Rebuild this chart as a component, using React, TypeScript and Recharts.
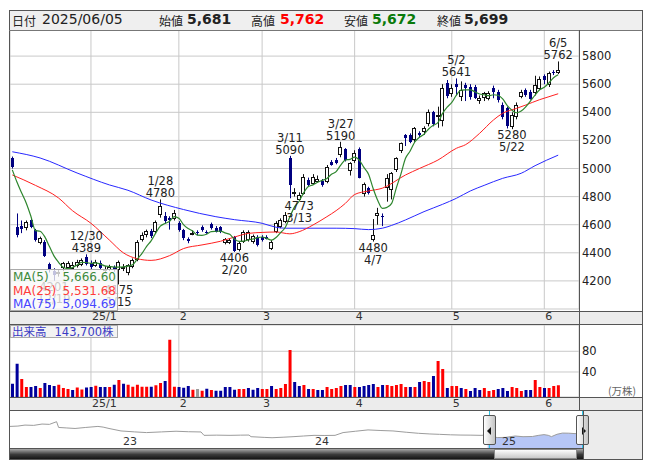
import React from 'react';
import { ComposedChart, Bar, Line, Area, XAxis, YAxis, CartesianGrid, Cell } from 'recharts';

const FONT = '"DejaVu Sans", Verdana, sans-serif';
const JP = '"Noto Sans CJK JP", "DejaVu Sans", sans-serif';

// trading days shown (12/6 .. 6/5)
const DATES = [
  '12/6', '12/9', '12/10', '12/11', '12/12', '12/13', '12/16', '12/17', '12/18', '12/19',
  '12/20', '12/23', '12/24', '12/25', '12/26', '12/27', '12/30',
  '1/6', '1/7', '1/8', '1/9', '1/10', '1/14', '1/15', '1/16', '1/17', '1/20', '1/21', '1/22',
  '1/23', '1/24', '1/27', '1/28', '1/29', '1/30', '1/31',
  '2/3', '2/4', '2/5', '2/6', '2/7', '2/10', '2/12', '2/13', '2/14', '2/17', '2/18', '2/19',
  '2/20', '2/21', '2/25', '2/26', '2/27', '2/28',
  '3/3', '3/4', '3/5', '3/6', '3/7', '3/10', '3/11', '3/12', '3/13', '3/14', '3/17', '3/18',
  '3/19', '3/21', '3/24', '3/25', '3/26', '3/27', '3/28', '3/31',
  '4/1', '4/2', '4/3', '4/4', '4/7', '4/8', '4/9', '4/10', '4/11', '4/14', '4/15', '4/16',
  '4/17', '4/18', '4/21', '4/22', '4/23', '4/24', '4/25', '4/28', '4/30',
  '5/1', '5/2', '5/7', '5/8', '5/9', '5/12', '5/13', '5/14', '5/15', '5/16', '5/19', '5/20',
  '5/21', '5/22', '5/23', '5/26', '5/27', '5/28', '5/29', '5/30',
  '6/2', '6/3', '6/4', '6/5',
];

const OPEN = [
  5075, 4586, 4590, 4575, 4634, 4563, 4468, 4479, 4320, 4270,
  4245, 4290, 4295, 4290, 4305, 4315, 4372, 4330, 4312, 4326,
  4270, 4280, 4300, 4277, 4285, 4255, 4300, 4349, 4491, 4527,
  4552, 4550, 4665, 4660, 4645, 4645, 4615, 4565, 4497, 4530,
  4550, 4582, 4550, 4603, 4575, 4582, 4468, 4470, 4511, 4415,
  4479, 4486, 4475, 4515, 4515, 4515, 4432, 4550, 4586, 4622,
  5077, 4830, 4776, 4824, 4918, 4895, 4910, 4910, 4906, 5048,
  5060, 5096, 5140, 4977, 5048, 5140, 4820, 4859, 4491, 4657,
  4660, 4859, 4847, 4989, 5119, 5238, 5240, 5203, 5255, 5255,
  5321, 5404, 5364, 5333, 5606, 5525, 5600, 5510, 5594, 5582,
  5582, 5475, 5500, 5499, 5570, 5546, 5452, 5428, 5297, 5368,
  5511, 5558, 5546, 5535, 5570, 5660, 5594, 5690, 5681,
];
const HIGH = [
  5085, 4680, 4630, 4630, 4645, 4570, 4515, 4490, 4330, 4290,
  4280, 4335, 4340, 4335, 4350, 4360, 4389, 4345, 4350, 4345,
  4305, 4315, 4310, 4345, 4320, 4320, 4360, 4490, 4545, 4565,
  4570, 4630, 4780, 4690, 4660, 4705, 4625, 4570, 4510, 4560,
  4560, 4595, 4560, 4615, 4590, 4590, 4505, 4505, 4520, 4480,
  4560, 4560, 4530, 4525, 4525, 4525, 4490, 4625, 4645, 4690,
  5090, 4860, 4830, 4960, 4935, 4960, 4950, 4925, 5025, 5060,
  5075, 5190, 5145, 5045, 5130, 5150, 4900, 4870, 4640, 4720,
  4680, 4960, 4975, 5080, 5185, 5245, 5250, 5295, 5265, 5300,
  5420, 5410, 5440, 5600, 5630, 5600, 5641, 5620, 5610, 5600,
  5595, 5520, 5545, 5550, 5590, 5560, 5470, 5440, 5400, 5470,
  5560, 5570, 5560, 5660, 5655, 5670, 5690, 5700, 5762,
];
const LOW = [
  5000, 4510, 4540, 4560, 4575, 4480, 4460, 4370, 4260, 4201,
  4230, 4270, 4285, 4280, 4295, 4305, 4310, 4285, 4300, 4280,
  4260, 4270, 4265, 4175, 4270, 4240, 4290, 4340, 4480, 4510,
  4505, 4540, 4650, 4610, 4565, 4630, 4550, 4490, 4468, 4525,
  4525, 4550, 4535, 4565, 4545, 4540, 4460, 4462, 4406, 4410,
  4470, 4480, 4465, 4445, 4480, 4495, 4420, 4540, 4575, 4610,
  4788, 4800, 4773, 4815, 4870, 4885, 4900, 4870, 4895, 5020,
  5030, 5080, 5050, 4950, 5040, 4930, 4800, 4815, 4480, 4600,
  4590, 4764, 4780, 4975, 5110, 5160, 5180, 5190, 5220, 5240,
  5300, 5300, 5290, 5300, 5500, 5510, 5520, 5480, 5480, 5490,
  5495, 5460, 5480, 5485, 5500, 5470, 5350, 5285, 5280, 5350,
  5500, 5510, 5490, 5520, 5560, 5600, 5580, 5665, 5672,
];
const CLOSE = [
  5010, 4527, 4570, 4617, 4586, 4490, 4503, 4378, 4275, 4245,
  4260, 4326, 4330, 4315, 4337, 4350, 4322, 4298, 4338, 4290,
  4285, 4300, 4280, 4334, 4300, 4310, 4350, 4480, 4527, 4552,
  4517, 4622, 4730, 4622, 4630, 4685, 4563, 4505, 4480, 4540,
  4540, 4558, 4543, 4575, 4550, 4545, 4496, 4490, 4408, 4468,
  4550, 4545, 4520, 4456, 4491, 4503, 4479, 4614, 4634, 4669,
  4883, 4835, 4812, 4943, 4883, 4943, 4928, 4880, 5013, 5030,
  5040, 5155, 5065, 5037, 5108, 4935, 4893, 4824, 4527, 4681,
  4655, 4930, 4966, 5072, 5179, 5215, 5191, 5286, 5240, 5286,
  5404, 5321, 5380, 5570, 5511, 5570, 5580, 5560, 5575, 5511,
  5505, 5499, 5535, 5540, 5545, 5487, 5368, 5297, 5380, 5452,
  5546, 5523, 5499, 5594, 5640, 5635, 5677, 5685, 5699,
];
// closes of the four sessions before 12/6 (for the first MA(5) values)
const PRE_CLOSES = [4960, 4950, 4980, 5050];

// volume, 万株
const VOLUME = [
  17.5, 56, 26.5, 11, 11, 13, 9, 18.7, 15, 13,
  15.5, 9, 7, 5, 10, 6, 10, 11, 13.6, 11,
  11, 11, 15.5, 24.5, 17.5, 15.5, 11.7, 15.5, 11.7, 11.7,
  11.7, 14.2, 18.7, 22.6, 102.5, 11.7, 11, 9.7, 13, 5.9,
  7.1, 3.9, 7.8, 5.2, 3.9, 3.9, 11, 11, 5.9, 7.1,
  7.1, 9, 5.9, 9, 7.1, 7.1, 13, 7.1, 9, 16.8,
  82.5, 20.7, 13, 14.9, 7.1, 7.1, 5.2, 5.2, 11, 7.1,
  9.1, 13, 14.9, 14.9, 11, 11, 13, 14.9, 16.8, 11,
  14.9, 14.9, 13, 14.9, 16.8, 11, 11, 11, 20.7, 22.6,
  20.7, 32.3, 61.3, 45.8, 9.1, 13, 13, 9.1, 7.1, 3.3,
  9.1, 5.2, 9.1, 3.3, 5.2, 7.1, 9.1, 3.3, 11, 9.1,
  3.3, 5.2, 5.2, 24.5, 11, 9.1, 9.1, 13, 14.4,
];

// moving averages: [session index, value]
const MA25_POINTS = [
  [0, 4954], [5, 4880], [10, 4790], [13, 4700], [17, 4610], [21, 4490], [24, 4400],
  [27, 4358], [30, 4346], [34, 4380], [37, 4430], [41, 4456], [45, 4482], [48, 4512],
  [51, 4538], [54, 4545], [57, 4548], [60, 4535], [62, 4550], [65, 4598], [68, 4657],
  [70, 4700], [72, 4752], [74, 4815], [77, 4840], [80, 4860], [85, 4954], [88, 5000],
  [92, 5060], [96, 5144], [98, 5170], [101, 5250], [104, 5345], [106, 5393], [109, 5428],
  [111, 5452], [114, 5490], [116, 5511], [118, 5532],
];
const MA75_POINTS = [
  [0, 5119], [6, 5075], [14, 4968], [21, 4883], [25, 4845], [30, 4776], [37, 4708],
  [44, 4657], [48, 4636], [54, 4610], [57, 4582], [59, 4575], [70, 4575], [74, 4572],
  [77, 4565], [80, 4575], [82, 4595], [85, 4634], [89, 4693], [93, 4745], [96, 4788],
  [99, 4840], [102, 4880], [106, 4930], [110, 4966], [113, 5020], [118, 5095],
];

const HIGH_MARKS = ['12/30', '1/28', '3/11', '3/27', '5/2', '6/5'];
const LOW_MARKS = ['12/19', '1/15', '2/20', '3/13', '4/7', '5/22'];

const MONTH_TICKS = ['1/6', '2/3', '3/3', '4/1', '5/1', '6/2'];
const MONTH_LABELS = ['25/1', '2', '3', '4', '5', '6'];
const PRICE_TICKS = [4200, 4400, 4600, 4800, 5000, 5200, 5400, 5600, 5800];
const VOL_TICKS = [40, 80];
const VOL_MIN = -8.3;
const VOL_MAX = 130.8;

const MA_LEGEND = [
  { name: 'MA(5)', value: '5,666.60', color: '#3d8a3d' },
  { name: 'MA(25)', value: '5,531.68', color: '#ff3b3b' },
  { name: 'MA(75)', value: '5,094.69', color: '#4646ff' },
];

// navigator: months since 2023/1, price
const NAV_T = [
  -7.1, -6.6, -6.15, -5.6, -5.07, -4.6, -4.15, -4.02, -3.5, -2.98, -2.3, -1.53, -1.2, -0.83,
  -0.07, 0.8, 1.55, 2.5, 3.42, 4.2, 5.0, 5.19, 6.0, 6.84, 7.5, 8.04, 8.17, 9.0, 9.5, 10.2,
  10.83, 11.5, 12.16, 12.8, 13.49, 14.0, 14.8, 15.58, 16.4, 17.16, 18.0, 18.78, 19.5, 20.11,
  20.8, 21.41, 22.1, 22.74, 23.16, 23.3, 23.8, 24.3, 24.9, 25.4, 26.0, 26.4, 26.73, 27.0,
  27.2, 27.55, 27.9, 28.3, 28.7, 29.13,
];
const NAV_V = [
  7500, 7600, 7890, 7800, 8190, 8100, 8880, 7200, 7050, 6900, 7200, 7500, 7300, 6900,
  6180, 5900, 5700, 5900, 6090, 5950, 5880, 4890, 4950, 4890, 4950, 4980, 4500, 4300, 4200, 4350,
  4500, 4700, 4890, 4850, 4890, 5700, 6100, 6480, 6300, 6180, 5800, 5490, 5300, 5190,
  5050, 4980, 4950, 4890, 5010, 4520, 4250, 4300, 4700, 4500, 4560, 4900, 5100, 4900,
  4520, 5200, 5560, 5520, 5400, 5700,
];
const NAV_SEL_START = 23.16;
const NAV_YEARS = [
  { label: '23', x: 123 },
  { label: '24', x: 315 },
  { label: '25', x: 502 },
];

// ---- build tables ----
const closesAll = [...PRE_CLOSES, ...CLOSE];
const rows: any[] = DATES.map((key, i) => {
  const win = closesAll.slice(i, i + 5);
  const prev = closesAll[i + 3];
  return {
    key,
    o: OPEN[i],
    h: HIGH[i],
    l: LOW[i],
    c: CLOSE[i],
    ma5: win.reduce((a, b) => a + b, 0) / 5,
    ma25: null,
    ma75: null,
    vol: VOLUME[i],
    dir: CLOSE[i] > prev ? 1 : CLOSE[i] < prev ? -1 : 0,
    ann: null,
    annKind: null,
  };
});
MA25_POINTS.forEach(([i, v]) => { rows[i].ma25 = v; });
MA75_POINTS.forEach(([i, v]) => { rows[i].ma75 = v; });
HIGH_MARKS.forEach((d) => {
  const r = rows.find((x) => x.key === d);
  r.ann = r.h; r.annKind = 'H';
});
LOW_MARKS.forEach((d) => {
  const r = rows.find((x) => x.key === d);
  r.ann = r.l; r.annKind = 'L';
});
// empty sessions to the right edge of the plot
['+1', '+2', '+3', '+4'].forEach((k) => rows.push({ key: k }));

const navRows = NAV_T.map((t, i) => ({
  t,
  v: NAV_V[i],
  sel: t >= NAV_SEL_START ? NAV_V[i] : null,
}));

// ---- shapes ----
const Candle = (props: any) => {
  const { x, y, width, height, payload } = props;
  if (!payload || payload.h == null) return <g />;
  const { o, h, l, c } = payload;
  const k = h - l > 0 ? height / (h - l) : 0;
  const col = Math.round(x + width / 2);
  const wx = col + 0.5;
  const yO = y + (h - o) * k;
  const yC = y + (h - c) * k;
  const up = c >= o;
  const top = Math.round(Math.min(yO, yC));
  const bh = Math.max(Math.round(Math.abs(yC - yO)), 1);
  if (up) {
    return (
      <g>
        <line x1={wx} x2={wx} y1={y} y2={y + height} stroke="#111" strokeWidth={1} />
        <rect x={col - 1.5} y={top + 0.5} width={3} height={Math.max(bh - 1, 1)} fill="#fff" stroke="#111" strokeWidth={1} />
      </g>
    );
  }
  return (
    <g>
      <line x1={wx} x2={wx} y1={y} y2={y + height} stroke="#000080" strokeWidth={1} />
      <rect x={col - 1} y={top} width={3} height={bh} fill="#000080" />
    </g>
  );
};

const AnnDot = (p: any) => {
  const { cx, cy, payload, index } = p;
  if (!payload || payload.ann == null || cy == null || isNaN(cy)) return <g key={`ann-${index}`} />;
  const hi = payload.annKind === 'H';
  const price = String(payload.ann);
  const first = hi ? payload.key : price;
  const second = hi ? price : payload.key;
  const y1 = hi ? cy - 14 : cy + 10;
  const y2 = hi ? cy - 2 : cy + 22;
  return (
    <g key={`ann-${index}`} fontFamily={FONT} fontSize={11.5} fill="#222" textAnchor="middle">
      <text x={cx} y={y1}>{first}</text>
      <text x={cx} y={y2}>{second}</text>
    </g>
  );
};

const monthTick = (dy: number) => (p: any) => {
  const idx = MONTH_TICKS.indexOf(p.payload.value);
  return (
    <text x={p.x + 1} y={p.y + dy} fontSize={11} fill="#333" fontFamily={FONT} textAnchor="start">
      {MONTH_LABELS[idx]}
    </text>
  );
};

const PriceTick = (p: any) => (
  <text x={p.x} y={p.y + 4} fontSize={11.5} fill="#222" fontFamily={FONT} textAnchor="start">
    {p.payload.value}
  </text>
);

const abs = (left: number, top: number, width: number, height: number, extra: any = {}) => ({
  position: 'absolute' as const, left, top, width, height, ...extra,
});

const HLine = ({ y, x1 = 9, x2 = 642, color = '#555' }: any) => (
  <div style={abs(x1, y, x2 - x1 + 1, 1, { background: color })} />
);
const VLine = ({ x, y1, y2, color = '#555' }: any) => (
  <div style={abs(x, y1, 1, y2 - y1 + 1, { background: color })} />
);

export default function App() {
  return (
    <div style={{ position: 'absolute', left: 0, top: 0, width: 653, height: 470, background: '#fff', fontFamily: FONT }}>
      {/* strips under the charts */}
      <div style={abs(9, 311, 634, 13, { background: '#ececec' })} />
      <div style={abs(9, 397, 634, 13, { background: '#ececec' })} />
      <div style={abs(583, 410, 60, 49, { background: '#ececec' })} />

      {/* price chart */}
      <div style={abs(0, 0, 653, 325)}>
        <ComposedChart width={653} height={325} data={rows} margin={{ top: 28, right: 14, bottom: 0, left: 10 }} barSize={4}>
          <CartesianGrid stroke="#c9c9c9" />
          <XAxis dataKey="key" type="category" ticks={MONTH_TICKS} interval={0} tick={monthTick(11)}
            tickLine={false} axisLine={false} height={16} tickSize={0} tickMargin={0} />
          <YAxis orientation="right" domain={[4000, 6000]} ticks={PRICE_TICKS} interval={0} width={60} tick={PriceTick}
            tickLine={false} axisLine={false} tickSize={0} tickMargin={3} allowDataOverflow />
          <Bar dataKey={(d: any) => (d.h == null ? null : [d.l, d.h])} shape={Candle} isAnimationActive={false} />
          <Line dataKey="ma75" type="monotone" stroke="#2828ff" strokeWidth={1} dot={false} connectNulls isAnimationActive={false} />
          <Line dataKey="ma25" type="monotone" stroke="#ff2020" strokeWidth={1} dot={false} connectNulls isAnimationActive={false} />
          <Line dataKey="ma5" type="monotone" stroke="#2e862e" strokeWidth={1.2} dot={false} isAnimationActive={false} />
          <Line dataKey="ann" stroke="none" dot={AnnDot} activeDot={false} isAnimationActive={false} />
        </ComposedChart>
      </div>

      {/* volume chart */}
      <div style={abs(0, 324, 653, 86)}>
        <ComposedChart width={653} height={86} data={rows} margin={{ top: 1, right: 14, bottom: 0, left: 10 }} barSize={3}>
          <CartesianGrid stroke="#c9c9c9" />
          <XAxis dataKey="key" type="category" ticks={MONTH_TICKS} interval={0} tick={monthTick(10)}
            tickLine={false} axisLine={false} height={13} tickSize={0} tickMargin={0} />
          <YAxis orientation="right" domain={[VOL_MIN, VOL_MAX]} ticks={VOL_TICKS} interval={0} width={60} tick={PriceTick}
            tickLine={false} axisLine={false} tickSize={0} tickMargin={3} allowDataOverflow />
          <Bar dataKey={(d: any) => (d.vol == null ? null : [VOL_MIN, d.vol])} isAnimationActive={false}>
            {rows.map((r, i) => (
              <Cell key={i} fill={r.dir === 1 ? '#ff0000' : r.dir === -1 ? '#00009c' : '#9a9a9a'} />
            ))}
          </Bar>
        </ComposedChart>
      </div>

      {/* navigator */}
      <div style={abs(0, 410, 653, 38)}>
        <ComposedChart width={653} height={38} data={navRows} margin={{ top: 1, right: 70, bottom: 0, left: 10 }}>
          <XAxis type="number" dataKey="t" domain={[-7.1, 29.2]} hide allowDataOverflow />
          <YAxis domain={[1200, 12000]} hide allowDataOverflow />
          <Area dataKey="sel" type="linear" fill="#b6c6f6" fillOpacity={1} stroke="none" baseValue={1200} isAnimationActive={false} />
          <Line dataKey="v" type="linear" stroke="#9c9c9c" strokeWidth={1} dot={false} isAnimationActive={false} />
        </ComposedChart>
      </div>
      {NAV_YEARS.map((y) => (
        <div key={y.label} style={abs(y.x, 436, 20, 12, { fontSize: 11, lineHeight: '12px', color: '#333' })}>{y.label}</div>
      ))}
      <VLine x={489} y1={410} y2={448} color="#2ec4e6" />
      <VLine x={582} y1={410} y2={448} color="#2ec4e6" />
      {[483, 576].map((x, k) => (
        <div key={x} style={abs(x, 415, 13, 30, {
          boxSizing: 'border-box', border: '1px solid #555', borderRadius: 2,
          background: 'linear-gradient(to right, #ffffff, #c4c4c4)',
        })}>
          <div style={{
            position: 'absolute', top: 11, left: k === 0 ? 3 : 5, width: 0, height: 0,
            borderTop: '4px solid transparent', borderBottom: '4px solid transparent',
            ...(k === 0 ? { borderRight: '4px solid #111' } : { borderLeft: '4px solid #111' }),
          }} />
        </div>
      ))}

      {/* scrollbar */}
      <div style={abs(10, 449, 484, 10, { background: 'linear-gradient(#a8a8a8, #3a3a3a 55%, #151515)' })} />
      <div style={abs(494, 449, 83, 10, { boxSizing: 'border-box', border: '1px solid #888', background: 'linear-gradient(#fdfdfd, #c9c9c9)' })} />
      <div style={abs(577, 449, 6, 10, { background: 'linear-gradient(#a8a8a8, #3a3a3a 55%, #151515)' })} />

      {/* header */}
      <div style={abs(9, 10, 634, 20, { background: '#efefef' })}>
        <span style={{ position: 'absolute', left: 3, top: 2, fontFamily: JP, fontSize: 12, color: '#222' }}>日付</span>
        <span style={{ position: 'absolute', left: 33, top: 1, fontSize: 14, color: '#222' }}>2025/06/05</span>
        <span style={{ position: 'absolute', left: 150, top: 2, fontFamily: JP, fontSize: 12, color: '#222' }}>始値</span>
        <span style={{ position: 'absolute', left: 178, top: 1, fontSize: 14, fontWeight: 'bold', color: '#222' }}>5,681</span>
        <span style={{ position: 'absolute', left: 242, top: 2, fontFamily: JP, fontSize: 12, color: '#222' }}>高値</span>
        <span style={{ position: 'absolute', left: 271, top: 1, fontSize: 14, fontWeight: 'bold', color: '#ff0000' }}>5,762</span>
        <span style={{ position: 'absolute', left: 335, top: 2, fontFamily: JP, fontSize: 12, color: '#222' }}>安値</span>
        <span style={{ position: 'absolute', left: 363, top: 1, fontSize: 14, fontWeight: 'bold', color: '#0a7a0a' }}>5,672</span>
        <span style={{ position: 'absolute', left: 428, top: 2, fontFamily: JP, fontSize: 12, color: '#222' }}>終値</span>
        <span style={{ position: 'absolute', left: 455, top: 1, fontSize: 14, fontWeight: 'bold', color: '#222' }}>5,699</span>
      </div>

      {/* MA legend */}
      <div style={abs(10, 269, 108, 42, {
        boxSizing: 'border-box', border: '1px solid #aaa', background: 'rgba(248,248,248,0.78)',
      })}>
        {MA_LEGEND.map((m, k) => (
          <div key={m.name} style={{ position: 'absolute', left: 2, right: 1, top: 1 + k * 13.5, height: 13, lineHeight: '13px', fontSize: 12, color: m.color }}>
            <span style={{ position: 'absolute', left: 0 }}>{m.name}</span>
            <span style={{ position: 'absolute', right: 0 }}>{m.value}</span>
          </div>
        ))}
      </div>

      {/* volume label */}
      <div style={abs(10, 325, 108, 13, {
        boxSizing: 'border-box', border: '1px solid #aaa', background: 'rgba(242,242,242,0.9)',
        fontSize: 11.5, lineHeight: '11px', color: '#3a3ac4', whiteSpace: 'nowrap',
      })}>
        <span style={{ fontFamily: JP, marginLeft: 1 }}>出来高</span>
        <span style={{ marginLeft: 8 }}>143,700</span>
        <span style={{ fontFamily: JP }}>株</span>
      </div>
      <div style={abs(608, 385, 34, 12, { fontFamily: JP, fontSize: 10.5, lineHeight: '12px', color: '#666' })}>(万株)</div>

      {/* frame */}
      <div style={abs(9, 10, 634, 450, { boxSizing: 'border-box', border: '1px solid #555' })} />
      <HLine y={30} color="#777" />
      <HLine y={311} />
      <HLine y={324} />
      <HLine y={397} />
      <HLine y={410} />
      <HLine y={448} x2={583} />
      <VLine x={579} y1={30} y2={410} />
      <VLine x={583} y1={410} y2={459} />
    </div>
  );
}
